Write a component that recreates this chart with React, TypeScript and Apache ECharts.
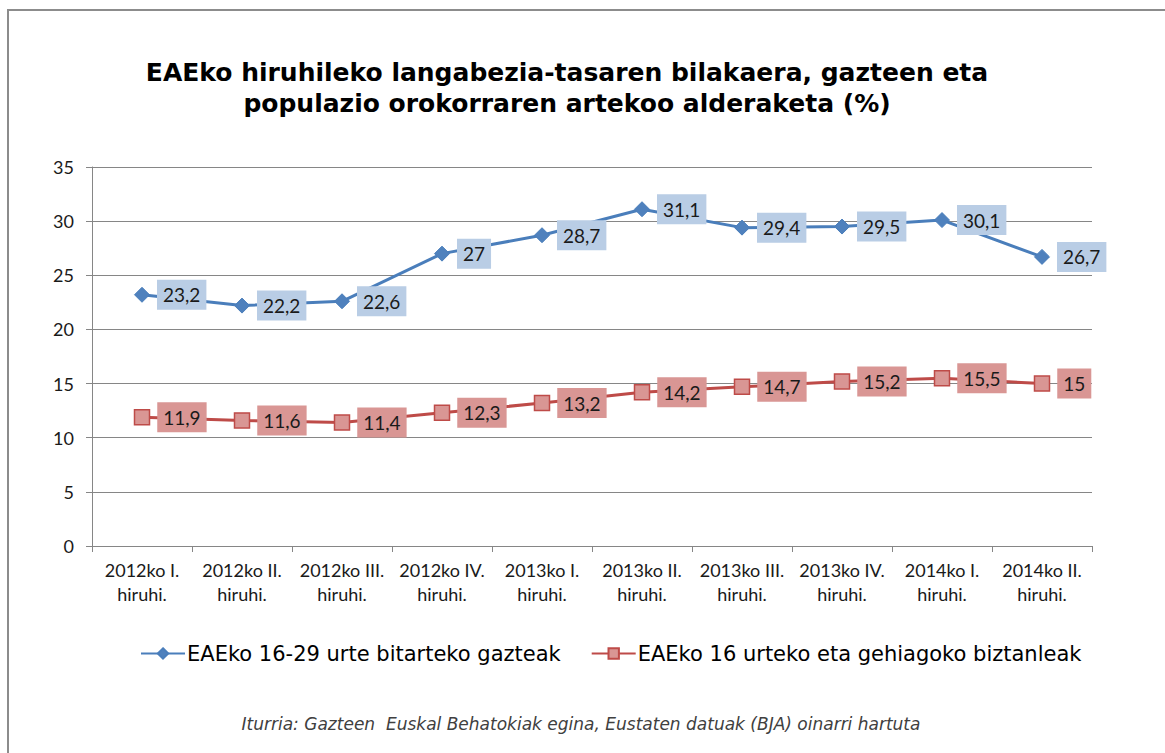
import React, { useEffect, useRef } from "react";
import * as echarts from "echarts";

const categories = [
  "2012ko I.\nhiruhi.",
  "2012ko II.\nhiruhi.",
  "2012ko III.\nhiruhi.",
  "2012ko IV.\nhiruhi.",
  "2013ko I.\nhiruhi.",
  "2013ko II.\nhiruhi.",
  "2013ko III.\nhiruhi.",
  "2013ko IV.\nhiruhi.",
  "2014ko I.\nhiruhi.",
  "2014ko II.\nhiruhi.",
];
const youth = [23.2, 22.2, 22.6, 27, 28.7, 31.1, 29.4, 29.5, 30.1, 26.7];
const general = [11.9, 11.6, 11.4, 12.3, 13.2, 14.2, 14.7, 15.2, 15.5, 15];
const seriesNames = [
  "EAEko 16-29 urte bitarteko gazteak",
  "EAEko 16 urteko eta gehiagoko biztanleak",
];
const titleText =
  "EAEko hiruhileko langabezia-tasaren bilakaera, gazteen eta\npopulazio orokorraren artekoo alderaketa (%)";
const footerText =
  "Iturria: Gazteen  Euskal Behatokiak egina, Eustaten datuak (BJA) oinarri hartuta";

const fmt = (p: any) => String(p.value).replace(".", ",");

export default function App() {
  const ref = useRef<HTMLDivElement>(null);
  useEffect(() => {
    if (!ref.current) return;
    const chart = echarts.init(ref.current, null, { renderer: "svg" });
    const labelBase = {
      show: true,
      position: "right" as const,
      distance: 7,
      formatter: fmt,
      fontFamily: "Lato",
      fontSize: 19,
      color: "#1a1a1a",
      padding: [6, 6, 5, 6],
    };
    chart.setOption({
      animation: false,
      backgroundColor: "#ffffff",
      title: {
        text: titleText,
        left: 562,
        top: 52,
        textAlign: "center",
        textStyle: {
          fontFamily: "DejaVu Sans",
          fontWeight: "bold",
          fontSize: 25,
          lineHeight: 31,
          color: "#000",
        },
      },
      graphic: [
        {
          type: "rect",
          shape: { x: 8, y: 10, width: 1180, height: 780 },
          style: { fill: "none", stroke: "#8c8c8c", lineWidth: 2 },
          silent: true,
        },
        {
          type: "text",
          x: 581,
          y: 724,
          style: {
            text: footerText,
            fontFamily: "DejaVu Sans",
            fontStyle: "italic",
            fontSize: 17,
            fill: "#404040",
            textAlign: "center",
            textVerticalAlign: "middle",
          },
        },
      ],
      legend: {
        left: 135,
        top: 638,
        itemWidth: 44,
        itemHeight: 13,
        itemGap: 30,
        textStyle: {
          fontFamily: "DejaVu Sans",
          fontSize: 21,
          color: "#000",
          padding: [0, 0, 0, -3],
        },
        data: seriesNames,
      },
      grid: { left: 92, top: 167, width: 1000, height: 379 },
      xAxis: {
        type: "category",
        data: categories,
        boundaryGap: true,
        axisLine: { lineStyle: { color: "#868686", width: 1 } },
        axisTick: { show: true, length: 6, lineStyle: { color: "#868686" } },
        axisLabel: {
          margin: 12,
          fontFamily: "Lato",
          fontSize: 18,
          lineHeight: 24,
          color: "#1a1a1a",
          interval: 0,
        },
      },
      yAxis: {
        type: "value",
        min: 0,
        max: 35,
        interval: 5,
        axisLine: { show: true, lineStyle: { color: "#868686", width: 1 } },
        axisTick: { show: true, length: 6, lineStyle: { color: "#868686" } },
        splitLine: { lineStyle: { color: "#868686", width: 1 } },
        axisLabel: {
          margin: 18,
          fontFamily: "Lato",
          fontSize: 18,
          color: "#1a1a1a",
        },
      },
      series: [
        {
          name: seriesNames[0],
          type: "line",
          data: youth,
          symbol: "diamond",
          symbolSize: 15,
          lineStyle: { color: "#4A7EBB", width: 3 },
          itemStyle: { color: "#4F81BD", borderColor: "#4A7EBB", borderWidth: 1 },
          label: { ...labelBase, backgroundColor: "#B9CDE5" },
        },
        {
          name: seriesNames[1],
          type: "line",
          data: general,
          symbol: "rect",
          symbolSize: 15,
          lineStyle: { color: "#BE4B48", width: 3 },
          itemStyle: { color: "#D99694", borderColor: "#BE4B48", borderWidth: 1.5 },
          label: { ...labelBase, backgroundColor: "#D99694" },
        },
      ],
    });
    return () => chart.dispose();
  }, []);
  return (
    <div
      ref={ref}
      style={{ position: "fixed", left: 0, top: 0, width: 1165, height: 753 }}
    />
  );
}
